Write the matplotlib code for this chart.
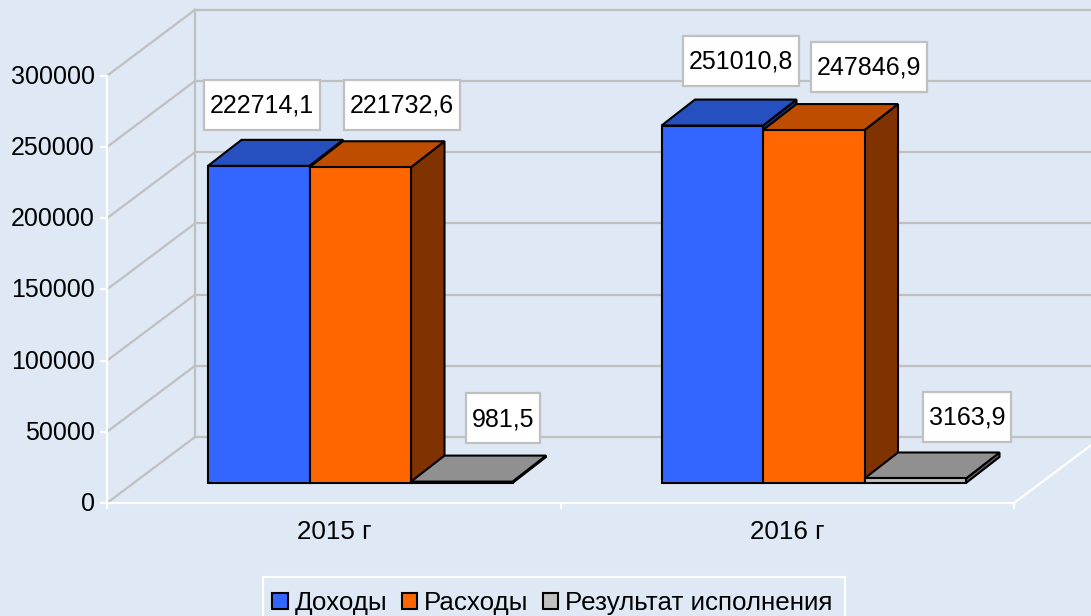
import matplotlib
matplotlib.use('Agg')
import matplotlib.pyplot as plt
from matplotlib.patches import Patch, Polygon, Rectangle

years = ['2015 г', '2016 г']
series_names = ['Доходы', 'Расходы', 'Результат исполнения']
dohody = [222714.1, 251010.8]
rashody = [221732.6, 247846.9]
rezultat = [981.5, 3163.9]
labels_dohody = ['222714,1', '251010,8']
labels_rashody = ['221732,6', '247846,9']
labels_rezultat = ['981,5', '3163,9']
y_ticks = [0, 50000, 100000, 150000, 200000, 250000, 300000]

BG = '#DEE9F5'
GRID = '#C0C0C0'
# front, top, side
COLORS = [('#3366FF', '#2650BF', '#1A3380'),
          ('#FF6600', '#BF4D00', '#803300'),
          ('#C0C0C0', '#909090', '#606060')]

W, H = 1091, 616
K = 71.2 / 50000  # pixels per unit
BASE = 483  # pixel row of bar floor


def yp(row):
    # pixel row -> data y
    return (BASE - row) / K


fig = plt.figure(figsize=(W / 100, H / 100), dpi=100, facecolor=BG)
plt.rcParams['font.family'] = ['Liberation Sans', 'DejaVu Sans']
ax = fig.add_axes([0, 0, 1, 1])
ax.set_xlim(0, W)
ax.set_ylim(yp(H), yp(0))
ax.axis('off')

FS = 18
FS2 = 18.7
LW = 1.6
front_x, front_row = 107, 503
back_x, back_row = 195, 437

# back wall and side wall
for v in y_ticks:
    y_front = yp(front_row) + v
    y_back = yp(back_row) + v
    ax.plot([front_x, back_x], [y_front, y_back], color=GRID, lw=LW, zorder=1)
    ax.plot([back_x, W + 5], [y_back, y_back], color=GRID, lw=LW, zorder=1)
    ax.plot([front_x - 6, front_x], [y_front, y_front], color='white', lw=LW, zorder=2)
    ax.text(95, y_front - 1 / K, str(v), ha='right', va='center', fontsize=FS, color='black')
ax.plot([back_x, back_x], [yp(back_row), yp(back_row) + y_ticks[-1]], color=GRID, lw=LW, zorder=1)

# axes in white
slot = 453.5
right_x = front_x + slot * len(years)
ax.plot([front_x, front_x], [yp(front_row), yp(front_row) + y_ticks[-1]], color='white', lw=LW, zorder=2)
ax.plot([front_x, right_x], [yp(front_row), yp(front_row)], color='white', lw=LW, zorder=2)
ax.plot([right_x, right_x + 88], [yp(front_row), yp(back_row)], color='white', lw=LW, zorder=2)
for i in range(len(years) + 1):
    x = front_x + slot * i
    ax.plot([x, x], [yp(front_row), yp(front_row + 5)], color='white', lw=LW, zorder=2)
for i, name in enumerate(years):
    ax.text(front_x + 0.5 + slot * (i + 0.5), yp(532), name, ha='center', va='center', fontsize=FS2, color='black')

# bars
bar_w = 101.5
dx, dy = 33.5, 26 / K
all_vals = [dohody, rashody, rezultat]
z = 3
for i in range(len(years)):
    x0 = front_x + slot * i + 101
    for j, vals in enumerate(all_vals):
        v = vals[i]
        x = x0 + bar_w * j
        c = COLORS[j]
        ec = dict(edgecolor='black', linewidth=1.5, joinstyle='miter')
        ax.add_patch(Polygon([(x + bar_w, 0), (x + bar_w + dx, dy), (x + bar_w + dx, v + dy), (x + bar_w, v)],
                             facecolor=c[2], zorder=z, **ec))
        ax.add_patch(Polygon([(x, v), (x + dx, v + dy), (x + bar_w + dx, v + dy), (x + bar_w, v)],
                             facecolor=c[1], zorder=z, **ec))
        ax.bar(x, v, width=bar_w, align='edge', color=c[0], zorder=z, **ec)
        z += 1

# data labels, boxes are centred on these pixel spots
label_spots = [[(262, 105), (402, 105), (503, 418)],
               [(741, 61), (869, 67), (967, 417)]]
label_texts = [labels_dohody, labels_rashody, labels_rezultat]
fig.canvas.draw()
renderer = fig.canvas.get_renderer()
for i in range(len(years)):
    for j in range(3):
        cx, row = label_spots[i][j]
        t = ax.text(cx, yp(row + 1), label_texts[j][i], ha='center', va='center', fontsize=FS, color='black', zorder=31)
        w = t.get_window_extent(renderer).width + 11
        ax.add_patch(Rectangle((cx - w / 2, yp(row + 25)), w, 50 / K, facecolor='white',
                               edgecolor=GRID, linewidth=LW, zorder=30))

# legend frame runs off the bottom of the picture
ax.add_patch(Rectangle((263, yp(H + 4)), 582, (H + 4 - 577) / K, facecolor=BG, edgecolor='white',
                       linewidth=LW, zorder=32))
handles = [Patch(facecolor=COLORS[j][0], edgecolor='black', linewidth=1.5) for j in range(3)]
leg = fig.legend(handles, series_names, loc='upper left', bbox_to_anchor=(272 / W, 1 - 591 / H),
                 bbox_transform=fig.transFigure, ncol=3, fontsize=FS2, frameon=False, borderpad=0,
                 borderaxespad=0, handlelength=0.6, handleheight=0.6, handletextpad=0.27,
                 columnspacing=0.55, labelspacing=0)
leg.set_zorder(40)

fig.savefig('out.png', dpi=100, facecolor=BG)
